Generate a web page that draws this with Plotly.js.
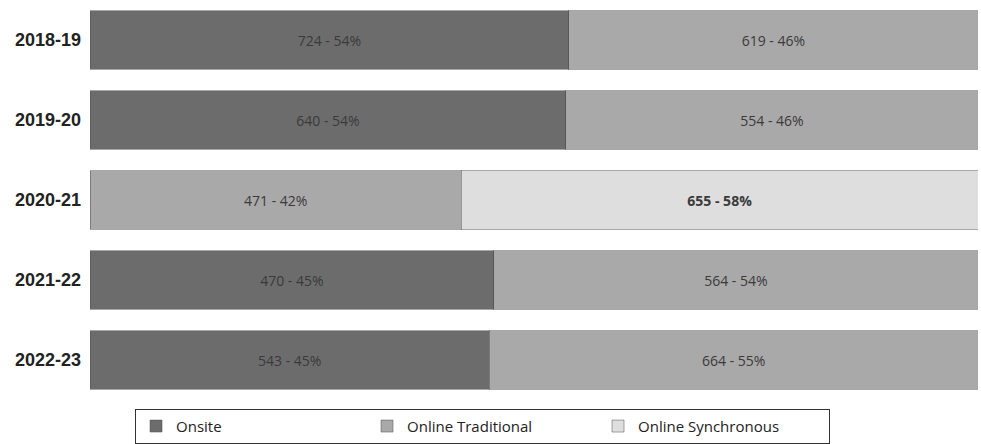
<!DOCTYPE html>
<html>
<head>
<meta charset="utf-8">
<script src="https://cdn.plot.ly/plotly-3.0.1.min.js"></script>
<style>html,body{margin:0;padding:0;background:#fff;}#chart{width:981px;height:444px;}</style>
</head>
<body>
<div id="chart"></div>
<script>
const years = ['2018-19','2019-20','2020-21','2021-22','2022-23'];
const onsite = [724, 640, null, 470, 543];
const onsitePct = [54, 54, null, 45, 45];
const trad = [619, 554, 471, 564, 664];
const tradPct = [46, 46, 42, 54, 55];
const sync = [null, null, 655, null, null];
const syncPct = [null, null, 58, null, null];
const seriesNames = ['Onsite', 'Online Traditional', 'Online Synchronous'];
const colors = ['#6c6c6c', '#a9a9a9', '#dedede'];

function labels(vals, pcts) {
  return vals.map((v, i) => v == null ? '' : v + ' - ' + pcts[i] + '%');
}

const series = [[onsite, onsitePct], [trad, tradPct], [sync, syncPct]];
const traces = series.map((s, k) => ({
  type: 'bar',
  orientation: 'h',
  name: seriesNames[k],
  y: years,
  x: s[0],
  text: labels(s[0], s[1]),
  textposition: 'inside',
  insidetextanchor: 'middle',
  textangle: 0,
  textfont: {family: 'Open Sans, sans-serif', size: 14, color: '#3a3a3a', weight: k === 2 ? 'bold' : 'normal'},
  marker: {color: colors[k], line: {color: 'rgba(80,80,80,0.5)', width: 1}},
  hoverinfo: 'skip'
}));

const layout = {
  width: 981, height: 444,
  margin: {l: 90, r: 3, t: 0, b: 42},
  barmode: 'stack',
  barnorm: 'percent',
  bargap: 0.27,
  paper_bgcolor: '#ffffff',
  plot_bgcolor: '#ffffff',
  xaxis: {visible: false, range: [0, 100], fixedrange: true},
  yaxis: {
    autorange: 'reversed',
    showgrid: false, zeroline: false, showline: false,
    ticks: '', ticklabelstandoff: 8,
    tickfont: {family: 'Liberation Sans, Arial, sans-serif', size: 18, color: '#222', weight: 'bold'}
  },
  showlegend: true,
  legend: {
    orientation: 'h',
    x: 0.0507, xanchor: 'left',
    y: -0.022, yanchor: 'top',
    bordercolor: '#333', borderwidth: 1,
    bgcolor: '#ffffff',
    entrywidth: 186, entrywidthmode: 'pixels',
    traceorder: 'normal',
    font: {family: 'Open Sans, sans-serif', size: 15, color: '#222'},
    itemclick: false, itemdoubleclick: false
  },
  font: {family: 'Open Sans, sans-serif'}
};

Plotly.newPlot('chart', traces, layout, {displayModeBar: false, staticPlot: true});
</script>
</body>
</html>
